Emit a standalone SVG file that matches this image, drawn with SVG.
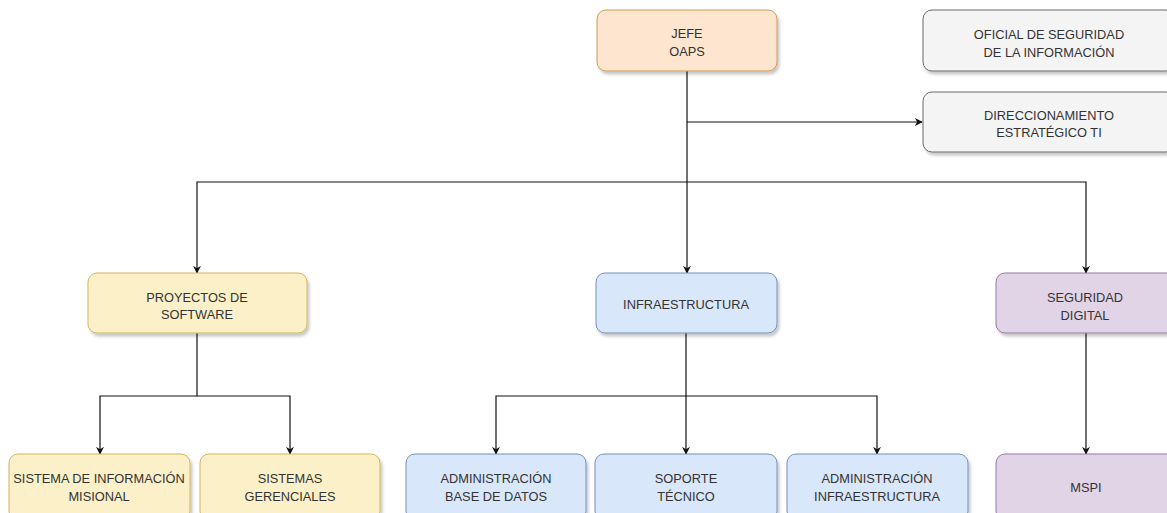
<svg xmlns="http://www.w3.org/2000/svg" width="1167" height="513" viewBox="0 0 1167 513">
<style>
.n rect{stroke-width:1;filter:url(#sh)}
.o rect{fill:#fde5cf;stroke:#d09a55}
.y rect{fill:#fcf0c8;stroke:#d2b35e}
.b rect{fill:#d9e7fa;stroke:#7590bb}
.p rect{fill:#e1d4e7;stroke:#957aa4}
.g rect{fill:#f4f4f4;stroke:#6b6b6b}
text{font-family:"Liberation Sans",Arial,sans-serif;font-size:12.8px;fill:#333;text-anchor:middle}
.e path{fill:none;stroke:#111;stroke-width:1.2}
</style>
<defs>
<filter id="sh" x="-10%" y="-20%" width="130%" height="150%">
<feDropShadow dx="2" dy="3" stdDeviation="1.5" flood-color="#000" flood-opacity="0.22"/>
</filter>
<marker id="a" viewBox="0 0 10 10" refX="9" refY="5" markerWidth="8" markerHeight="8" orient="auto" markerUnits="userSpaceOnUse">
<path d="M0,0 L10,5 L0,10 L3,5 Z" fill="#111"/>
</marker>
</defs>
<rect width="1167" height="513" fill="#fff"/>
<g class="e">
<path d="M687,71 V273" marker-end="url(#a)"/>
<path d="M687,122 H922" marker-end="url(#a)"/>
<path d="M687,182 H197 V273" marker-end="url(#a)"/>
<path d="M687,182 H1086 V273" marker-end="url(#a)"/>
<path d="M197,332 V396 H100 V454" marker-end="url(#a)"/>
<path d="M197,396 H290 V454" marker-end="url(#a)"/>
<path d="M686,332 V454" marker-end="url(#a)"/>
<path d="M686,396 H496 V454" marker-end="url(#a)"/>
<path d="M686,396 H877 V454" marker-end="url(#a)"/>
<path d="M1086,332 V454" marker-end="url(#a)"/>
</g>
<g id="jefe" class="n o"><rect x="597" y="10" width="180" height="61" rx="9"/><text x="687" y="38">JEFE</text><text x="687" y="56">OAPS</text></g>
<g id="oficial" class="n g"><rect x="923" y="10" width="252" height="61" rx="9"/><text x="1049" y="39">OFICIAL DE SEGURIDAD</text><text x="1049" y="57">DE LA INFORMACIÓN</text></g>
<g id="direccionamiento" class="n g"><rect x="923" y="92" width="252" height="60" rx="9"/><text x="1049" y="120">DIRECCIONAMIENTO</text><text x="1049" y="137">ESTRATÉGICO TI</text></g>
<g id="proyectos" class="n y"><rect x="88" y="273" width="219" height="60" rx="9"/><text x="197" y="302">PROYECTOS DE</text><text x="197" y="319">SOFTWARE</text></g>
<g id="infraestructura" class="n b"><rect x="596" y="273" width="181" height="60" rx="9"/><text x="686" y="309">INFRAESTRUCTURA</text></g>
<g id="seguridad" class="n p"><rect x="996" y="273" width="180" height="60" rx="9"/><text x="1085" y="302">SEGURIDAD</text><text x="1085" y="320">DIGITAL</text></g>
<g id="sim" class="n y"><rect x="9" y="454" width="181" height="66" rx="9"/><text x="99" y="483">SISTEMA DE INFORMACIÓN</text><text x="99" y="501">MISIONAL</text></g>
<g id="gerenciales" class="n y"><rect x="200" y="454" width="180" height="66" rx="9"/><text x="290" y="483">SISTEMAS</text><text x="290" y="501">GERENCIALES</text></g>
<g id="abd" class="n b"><rect x="406" y="454" width="180" height="66" rx="9"/><text x="496" y="483">ADMINISTRACIÓN</text><text x="496" y="501">BASE DE DATOS</text></g>
<g id="soporte" class="n b"><rect x="595" y="454" width="182" height="66" rx="9"/><text x="686" y="483">SOPORTE</text><text x="686" y="501">TÉCNICO</text></g>
<g id="ainfra" class="n b"><rect x="787" y="454" width="181" height="66" rx="9"/><text x="877" y="483">ADMINISTRACIÓN</text><text x="877" y="501">INFRAESTRUCTURA</text></g>
<g id="mspi" class="n p"><rect x="996" y="454" width="180" height="66" rx="9"/><text x="1086" y="492">MSPI</text></g>
</svg>
